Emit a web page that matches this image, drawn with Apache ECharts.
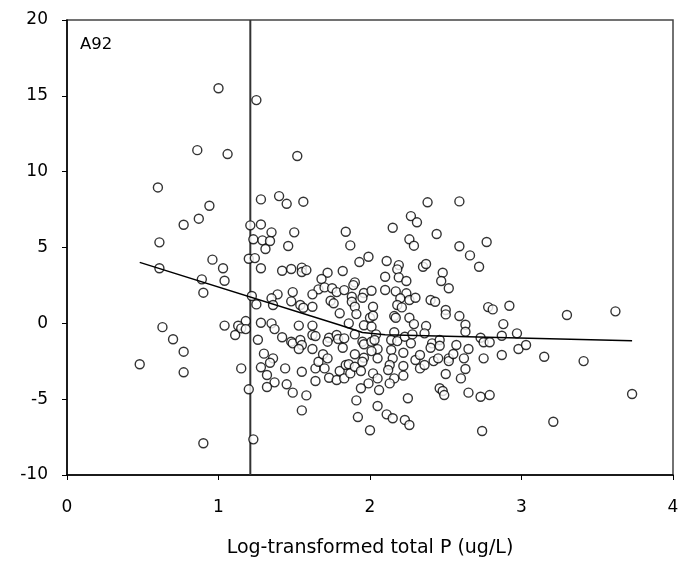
<!DOCTYPE html>
<html>
<head>
<meta charset="utf-8">
<script src="https://cdn.jsdelivr.net/npm/echarts@6/dist/echarts.min.js"></script>
<style>
  html, body { margin: 0; padding: 0; background: #fff; }
  #container { width: 684px; height: 579px; }
</style>
</head>
<body>
<div id="container"></div>
<script>
//初始化echarts
var dom = document.getElementById('container');
var myChart = echarts.init(dom, null, { renderer: 'canvas' });

//散点数据 [x, y]
var pointsLeft = [
  [1.0, 15.5], [1.25, 14.72], [0.86, 11.42], [1.06, 11.16], [1.52, 11.03],
  [0.6, 8.96], [0.94, 7.75], [0.87, 6.9], [0.77, 6.5], [0.61, 5.34], [0.96, 4.2],
  [0.61, 3.63], [1.03, 3.63], [0.89, 2.9], [1.04, 2.81], [0.9, 2.02], [0.63, -0.25],
  [1.04, -0.15], [0.7, -1.05], [0.77, -1.87], [0.48, -2.7], [0.77, -3.23], [0.9, -7.91]
];
var pointsUpper = [
  [1.28, 8.17], [1.4, 8.39], [1.45, 7.88], [1.56, 8.02], [1.21, 6.46], [1.28, 6.52],
  [1.35, 6.0], [1.5, 6.0], [1.84, 6.04], [1.23, 5.54], [1.29, 5.47], [1.34, 5.43],
  [1.31, 4.9], [1.46, 5.1], [1.87, 5.14], [1.99, 4.39], [1.93, 4.04], [1.2, 4.26],
  [1.24, 4.3], [1.28, 3.63], [1.42, 3.47], [1.48, 3.58], [1.55, 3.67], [1.55, 3.38],
  [1.58, 3.51], [1.72, 3.34], [1.82, 3.45], [1.68, 2.92], [1.66, 2.24], [1.62, 1.91],
  [1.7, 2.37], [1.75, 2.31], [1.78, 2.06], [1.83, 2.19], [1.9, 2.7], [1.89, 2.52],
  [1.96, 2.0], [2.01, 2.15], [1.88, 1.75], [1.88, 1.42], [1.9, 1.09], [1.95, 1.69],
  [2.02, 1.09], [2.0, 0.37], [1.91, 0.61], [1.8, 0.66], [1.86, 0.0], [1.74, 1.49],
  [1.76, 1.32], [1.49, 2.06], [1.48, 1.45], [1.54, 1.21], [1.56, 1.03], [1.62, 1.09],
  [1.39, 1.91], [1.35, 1.65], [1.36, 1.21], [1.22, 1.8], [1.25, 1.25], [1.18, 0.15],
  [1.13, -0.16], [1.28, 0.04], [1.35, 0.0], [1.53, -0.15], [1.62, -0.15], [1.96, -0.13],
  [2.01, -0.22]
];
var pointsLower = [
  [1.11, -0.77], [1.15, -0.33], [1.18, -0.38], [1.26, -1.08], [1.37, -0.38], [1.42, -0.92],
  [1.48, -1.21], [1.49, -1.32], [1.54, -1.1], [1.55, -1.43], [1.53, -1.69], [1.62, -0.77],
  [1.62, -1.69], [1.64, -0.84], [1.73, -0.95], [1.72, -1.21], [1.78, -0.77], [1.79, -1.03],
  [1.83, -0.99], [1.82, -1.61], [1.9, -0.73], [1.95, -1.21], [1.96, -1.38], [2.01, -1.21],
  [2.05, -1.7], [2.01, -1.83], [1.9, -2.04], [1.96, -2.27], [2.05, -2.31], [1.3, -2.0],
  [1.36, -2.31], [1.34, -2.6], [1.28, -2.9], [1.15, -2.97], [1.32, -3.41], [1.37, -3.89],
  [1.32, -4.2], [1.44, -2.97], [1.45, -4.02], [1.49, -4.57], [1.55, -3.19], [1.58, -4.75],
  [1.55, -5.74], [1.64, -2.97], [1.64, -3.8], [1.66, -2.53], [1.69, -2.04], [1.72, -2.31],
  [1.7, -2.97], [1.73, -3.59], [1.78, -3.74], [1.8, -3.14], [1.83, -3.63], [1.84, -2.75],
  [1.86, -2.7], [1.87, -3.3], [1.9, -2.86], [1.94, -3.14], [1.95, -2.53], [2.02, -3.3],
  [1.99, -3.96], [1.94, -4.28], [2.06, -4.4], [1.91, -5.08], [1.92, -6.18], [2.0, -7.05],
  [2.05, -5.45], [1.2, -4.35], [1.23, -7.65], [2.05, -3.63]
];
var pointsRightUpper = [
  [2.38, 7.98], [2.59, 8.04], [2.27, 7.07], [2.31, 6.66], [2.15, 6.3], [2.44, 5.89],
  [2.26, 5.54], [2.29, 5.12], [2.59, 5.08], [2.66, 4.48], [2.77, 5.36], [2.72, 3.73],
  [2.11, 4.11], [2.19, 3.84], [2.18, 3.56], [2.1, 3.07], [2.19, 3.03], [2.24, 2.79],
  [2.35, 3.73], [2.37, 3.91], [2.48, 3.34], [2.47, 2.79], [2.52, 2.31], [2.1, 2.2],
  [2.17, 2.11], [2.24, 1.98], [2.2, 1.65], [2.26, 1.54], [2.3, 1.69], [2.4, 1.54],
  [2.43, 1.42], [2.18, 1.21], [2.21, 1.05], [2.02, 0.5], [2.16, 0.48], [2.17, 0.37],
  [2.26, 0.37], [2.29, -0.05], [2.37, -0.18], [2.5, 0.88], [2.5, 0.59], [2.59, 0.48],
  [2.63, -0.09], [2.78, 1.07], [2.81, 0.92], [2.92, 1.16], [2.88, -0.05], [3.3, 0.55],
  [3.62, 0.79]
];
var pointsRightLower = [
  [2.04, -0.73], [2.03, -1.1], [2.16, -0.59], [2.14, -1.1], [2.18, -1.17], [2.23, -0.88],
  [2.28, -0.73], [2.27, -1.32], [2.36, -0.66], [2.41, -1.32], [2.4, -1.61], [2.46, -1.1],
  [2.46, -1.48], [2.57, -1.43], [2.65, -1.69], [2.63, -0.55], [2.73, -0.95], [2.75, -1.25],
  [2.79, -1.25], [2.87, -0.82], [2.97, -0.66], [2.98, -1.69], [3.03, -1.43], [2.87, -2.09],
  [2.75, -2.31], [2.14, -1.76], [2.22, -1.94], [2.15, -2.31], [2.13, -2.75], [2.22, -2.81],
  [2.12, -3.08], [2.22, -3.45], [2.16, -3.63], [2.13, -3.96], [2.3, -2.42], [2.33, -2.09],
  [2.33, -2.97], [2.36, -2.75], [2.42, -2.49], [2.45, -2.31], [2.52, -2.31], [2.52, -2.49],
  [2.55, -2.02], [2.62, -2.31], [2.63, -3.01], [2.6, -3.63], [2.5, -3.34], [2.46, -4.28],
  [2.48, -4.46], [2.49, -4.73], [2.25, -4.94], [2.65, -4.57], [2.73, -4.84], [2.79, -4.73],
  [2.11, -6.0], [2.15, -6.26], [2.23, -6.37], [2.26, -6.7], [2.74, -7.1], [3.15, -2.2],
  [3.41, -2.49], [3.73, -4.66], [3.21, -6.49]
];
var allPoints = pointsLeft.concat(pointsUpper, pointsLower, pointsRightUpper, pointsRightLower);

//拟合线
var fitX = [0.48, 1.8, 1.95, 2.1, 3.73];
var fitY = [4.02, -0.11, -0.6, -0.76, -1.15];
var fitLine = fitX.map(function (x, i) { return [x, fitY[i]]; });

//竖线位置
var vLineX = 1.21;

//坐标轴刻度
var xMin = 0, xMax = 4, xStep = 1;
var yMin = -10, yMax = 20, yStep = 5;

var tickFont = { fontFamily: 'DejaVu Sans', fontSize: 17, color: '#000' };

var option = {
  animation: false,
  grid: {
    left: 67,
    right: 11,
    top: 20,
    bottom: 104,
    show: true,
    borderColor: '#444',
    borderWidth: 1.5
  },
  graphic: [{
    type: 'text',
    left: 80,
    top: 36,
    style: { text: 'A92', font: '16.5px "DejaVu Sans"', fill: '#000' }
  }],
  xAxis: {
    type: 'value',
    min: xMin,
    max: xMax,
    interval: xStep,
    name: 'Log-transformed total P (ug/L)',
    nameLocation: 'middle',
    nameGap: 64,
    nameTextStyle: { fontFamily: 'DejaVu Sans', fontSize: 19, color: '#000' },
    axisLine: { onZero: false, lineStyle: { color: '#000', width: 1.5 } },
    axisTick: { show: true, length: 5, lineStyle: { color: '#000' } },
    axisLabel: Object.assign({ margin: 24 }, tickFont),
    splitLine: { show: false }
  },
  yAxis: {
    type: 'value',
    min: yMin,
    max: yMax,
    interval: yStep,
    axisLine: { show: true, onZero: false, lineStyle: { color: '#000', width: 1.5 } },
    axisTick: { show: true, length: 5, lineStyle: { color: '#000' } },
    axisLabel: Object.assign({ margin: 19 }, tickFont),
    splitLine: { show: false }
  },
  series: [
    {
      type: 'line',
      data: [[vLineX, yMin], [vLineX, yMax]],
      symbol: 'none',
      lineStyle: { color: '#333', width: 2 },
      z: 1
    },
    {
      type: 'scatter',
      data: allPoints,
      symbol: 'circle',
      symbolSize: 9,
      itemStyle: { color: '#fff', borderColor: '#000', borderWidth: 1.4 },
      z: 2
    },
    {
      type: 'line',
      data: fitLine,
      symbol: 'none',
      lineStyle: { color: '#000', width: 1.5 },
      z: 3
    }
  ]
};

myChart.setOption(option);
</script>
</body>
</html>
